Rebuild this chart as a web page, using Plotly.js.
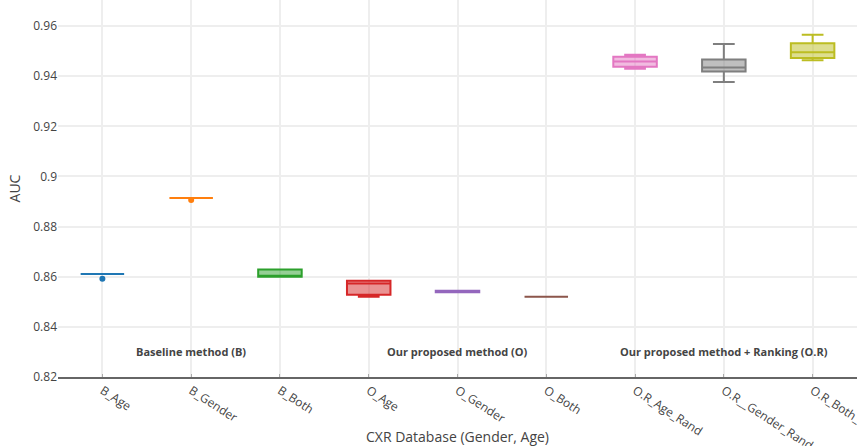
<!DOCTYPE html>
<html>
<head>
<meta charset="utf-8">
<script src="https://cdn.plot.ly/plotly-3.0.1.min.js"></script>
<style>html,body{margin:0;padding:0;background:#fff;}#chart{width:857px;height:446px;}</style>
</head>
<body>
<div id="chart"></div>
<script>
var categories = ["B_Age","B_Gender","B_Both","O_Age","O_Gender","O_Both","O.R_Age_Rand","O.R__Gender_Rand","O.R_Both_Rand"];
var colors = ["#1f77b4","#ff7f0e","#2ca02c","#d62728","#9467bd","#8c564b","#e377c2","#7f7f7f","#bcbd22"];
var q1Values     = [0.8611, 0.8914, 0.8600, 0.8528, 0.8538, 0.8520, 0.9438, 0.9419, 0.9473];
var medianValues = [0.8611, 0.8914, 0.8601, 0.8573, 0.8541, 0.8520, 0.9459, 0.9435, 0.9496];
var q3Values     = [0.8611, 0.8914, 0.8629, 0.8584, 0.8544, 0.8520, 0.9478, 0.9467, 0.9531];
var lowerFences  = [0.8611, 0.8914, 0.8600, 0.8520, 0.8538, 0.8520, 0.9430, 0.9377, 0.9464];
var upperFences  = [0.8611, 0.8914, 0.8629, 0.8584, 0.8544, 0.8520, 0.9486, 0.9528, 0.9565];
var outlierCats   = ["B_Age","B_Gender"];
var outlierValues = [0.8592, 0.8906];
var outlierColors = ["#1f77b4","#ff7f0e"];
var groupLabels = ["Baseline method (B)","Our proposed method (O)","Our proposed method + Ranking (O.R)"];
var groupAnchors = ["B_Gender","O_Gender","O.R__Gender_Rand"];

var traces = categories.map(function(c, i){
  return {
    type: "box",
    name: c,
    x: [c],
    q1: [q1Values[i]],
    median: [medianValues[i]],
    q3: [q3Values[i]],
    lowerfence: [lowerFences[i]],
    upperfence: [upperFences[i]],
    marker: {color: colors[i]},
    line: {width: 2},
    boxpoints: false,
    showlegend: false
  };
});
traces.push({
  type: "scatter",
  mode: "markers",
  x: outlierCats,
  y: outlierValues,
  marker: {color: outlierColors, size: 6},
  showlegend: false,
  hoverinfo: "y"
});

var annotations = groupLabels.map(function(t, i){
  return {
    text: "<b>" + t + "</b>",
    x: groupAnchors[i], y: 0.83, xref: "x", yref: "y",
    showarrow: false,
    font: {family: "Open Sans", size: 11, color: "#444"}
  };
});

var layout = {
  width: 857, height: 446,
  margin: {l: 58, r: 0, t: 0, b: 69},
  paper_bgcolor: "#fff", plot_bgcolor: "#fff",
  font: {family: "Open Sans", color: "#444", size: 12},
  boxmode: "overlay",
  showlegend: false,
  xaxis: {
    type: "category",
    categoryorder: "array", categoryarray: categories,
    tickangle: 33,
    showgrid: true, gridcolor: "#eee", gridwidth: 2,
    showline: true, linecolor: "#666", linewidth: 2,
    ticks: "inside", ticklen: 3, tickcolor: "#aaa", tickwidth: 1,
    tickfont: {size: 12},
    title: {text: "CXR Database (Gender, Age)", font: {size: 14}, standoff: 0},
    range: [-0.5, 8.5]
  },
  yaxis: {
    range: [0.82, 0.9704],
    dtick: 0.02,
    showgrid: true, gridcolor: "#eee", gridwidth: 2,
    zeroline: false,
    ticks: "",
    tickfont: {size: 12},
    title: {text: "AUC", font: {size: 14}}
  },
  annotations: annotations
};

Plotly.newPlot("chart", traces, layout, {displayModeBar: false});
</script>
</body>
</html>
